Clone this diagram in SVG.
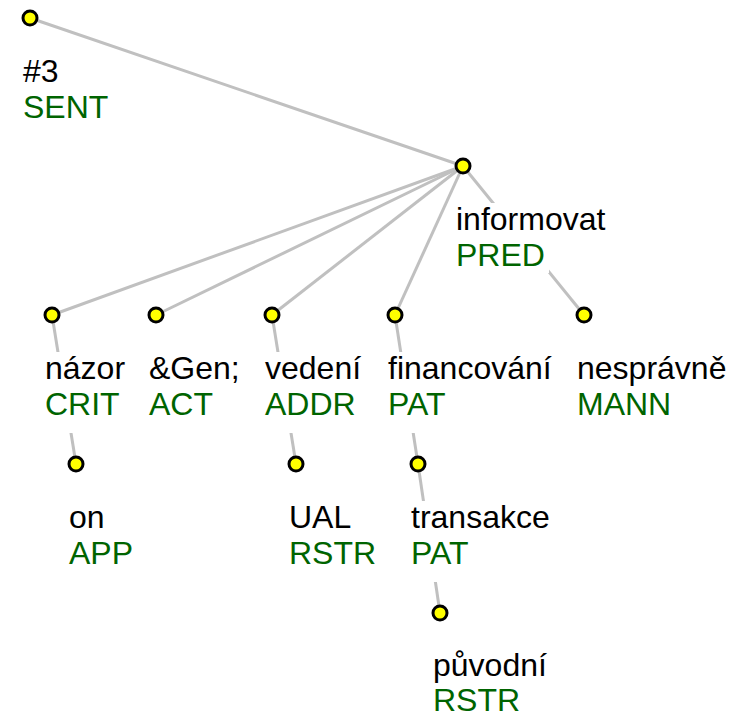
<svg xmlns="http://www.w3.org/2000/svg" width="741" height="717" viewBox="0 0 741 717">
  <style>
    .edge { stroke: #c0c0c0; stroke-width: 3; fill: none; }
    .bg { fill: #ffffff; }
    .node { fill: #ffff00; stroke: #000000; stroke-width: 3; }
    .t { font-family: "Liberation Sans", Arial, sans-serif; font-size: 32px; }
    .form { fill: #000000; }
    .func { fill: #006400; }
  </style>

  <!-- dependency edges, drawn first so label backgrounds hide them -->
  <g id="edges">
    <line class="edge" x1="30" y1="18" x2="463" y2="166"/>
    <line class="edge" x1="463" y1="166" x2="52" y2="315"/>
    <line class="edge" x1="463" y1="166" x2="156" y2="315"/>
    <line class="edge" x1="463" y1="166" x2="272" y2="315"/>
    <line class="edge" x1="463" y1="166" x2="395" y2="315"/>
    <line class="edge" x1="463" y1="166" x2="584" y2="315"/>
    <line class="edge" x1="52" y1="315" x2="76" y2="464"/>
    <line class="edge" x1="272" y1="315" x2="296" y2="464"/>
    <line class="edge" x1="395" y1="315" x2="418" y2="464"/>
    <line class="edge" x1="418" y1="464" x2="440" y2="613"/>
  </g>

  <g id="n-sent">
    <rect class="bg" x="21" y="55" width="42" height="36"/>
    <rect class="bg" x="21" y="91" width="92" height="34"/>
    <text class="t form" x="23" y="82">#3</text>
    <text class="t func" x="23" y="118">SENT</text>
    <circle class="node" cx="30" cy="18" r="7"/>
  </g>

  <g id="n-informovat">
    <rect class="bg" x="454" y="203" width="156" height="36"/>
    <rect class="bg" x="454" y="239" width="95" height="34"/>
    <text class="t form" x="456" y="230">informovat</text>
    <text class="t func" x="456" y="266">PRED</text>
    <circle class="node" cx="463" cy="166" r="7"/>
  </g>

  <g id="n-nazor">
    <rect class="bg" x="43" y="352" width="86" height="36"/>
    <rect class="bg" x="43" y="388" width="81" height="45"/>
    <text class="t form" x="45" y="379">názor</text>
    <text class="t func" x="45" y="415">CRIT</text>
    <circle class="node" cx="52" cy="315" r="7"/>
  </g>

  <g id="n-gen">
    <rect class="bg" x="147" y="352" width="97" height="36"/>
    <rect class="bg" x="147" y="388" width="70" height="45"/>
    <text class="t form" x="149" y="379">&amp;Gen;</text>
    <text class="t func" x="149" y="415">ACT</text>
    <circle class="node" cx="156" cy="315" r="7"/>
  </g>

  <g id="n-vedeni">
    <rect class="bg" x="263" y="352" width="102" height="36"/>
    <rect class="bg" x="263" y="388" width="97" height="45"/>
    <text class="t form" x="265" y="379">vedení</text>
    <text class="t func" x="265" y="415">ADDR</text>
    <circle class="node" cx="272" cy="315" r="7"/>
  </g>

  <g id="n-financovani">
    <rect class="bg" x="386" y="352" width="170" height="36"/>
    <rect class="bg" x="386" y="388" width="68" height="45"/>
    <text class="t form" x="388" y="379">financování</text>
    <text class="t func" x="388" y="415">PAT</text>
    <circle class="node" cx="395" cy="315" r="7"/>
  </g>

  <g id="n-nespravne">
    <rect class="bg" x="575" y="352" width="156" height="36"/>
    <rect class="bg" x="575" y="388" width="100" height="45"/>
    <text class="t form" x="577" y="379">nesprávně</text>
    <text class="t func" x="577" y="415">MANN</text>
    <circle class="node" cx="584" cy="315" r="7"/>
  </g>

  <g id="n-on">
    <rect class="bg" x="67" y="501" width="42" height="36"/>
    <rect class="bg" x="67" y="537" width="70" height="45"/>
    <text class="t form" x="69" y="528">on</text>
    <text class="t func" x="69" y="564">APP</text>
    <circle class="node" cx="76" cy="464" r="7"/>
  </g>

  <g id="n-ual">
    <rect class="bg" x="287" y="501" width="68" height="36"/>
    <rect class="bg" x="287" y="537" width="93" height="45"/>
    <text class="t form" x="289" y="528">UAL</text>
    <text class="t func" x="289" y="564">RSTR</text>
    <circle class="node" cx="296" cy="464" r="7"/>
  </g>

  <g id="n-transakce">
    <rect class="bg" x="409" y="501" width="145" height="36"/>
    <rect class="bg" x="409" y="537" width="68" height="45"/>
    <text class="t form" x="411" y="528">transakce</text>
    <text class="t func" x="411" y="564">PAT</text>
    <circle class="node" cx="418" cy="464" r="7"/>
  </g>

  <g id="n-puvodni">
    <rect class="bg" x="431" y="649" width="120" height="36"/>
    <rect class="bg" x="431" y="685" width="93" height="32"/>
    <text class="t form" x="433" y="676">původní</text>
    <text class="t func" x="433" y="711">RSTR</text>
    <circle class="node" cx="440" cy="613" r="7"/>
  </g>
</svg>
